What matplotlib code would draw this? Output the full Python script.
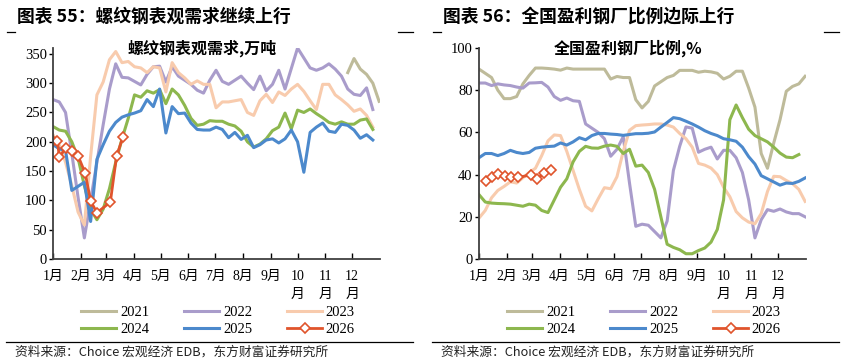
import numpy as np
import matplotlib.pyplot as plt
from matplotlib.lines import Line2D

plt.rcParams['font.family'] = ['Liberation Serif', 'Noto Sans CJK SC']

years = ['2021', '2022', '2023', '2024', '2025', '2026']
colors = ['#BEBB9A', '#A99CCB', '#F8CBAD', '#8DB74E', '#4C89CC', '#E0542C']

month_days = [1, 32, 60, 91, 121, 152, 182, 213, 244, 274, 305, 335]
month_labels = ['1月', '2月', '3月', '4月', '5月', '6月', '7月', '8月', '9月',
                '10\n月', '11\n月', '12\n月']

# 螺纹钢表观需求，万吨（周度，第0周起）
steel_2021_start = 47
steel_2021 = [318, 342, 324, 315, 300, 269]
steel_2022 = [272, 268, 250, 180, 105, 36, 100, 165, 229, 290, 333, 310, 309, 303, 297,
              315, 328, 329, 302, 328, 312, 305, 298, 288, 283, 305, 322, 303, 298, 305,
              312, 300, 289, 312, 287, 298, 322, 290, 325, 360, 343, 326, 322, 326, 333,
              324, 312, 290, 281, 279, 292, 255]
steel_2023 = [212, 195, 165, 125, 80, 58, 175, 280, 302, 340, 354, 335, 337, 328, 326,
              318, 328, 326, 285, 335, 318, 309, 298, 304, 298, 298, 258, 268, 268, 270,
              272, 250, 245, 270, 281, 267, 285, 279, 290, 298, 286, 270, 255, 298, 298,
              280, 272, 263, 252, 256, 245, 225]
steel_2024 = [226, 220, 218, 200, 172, 125, 85, 67, 85, 120, 165, 205, 240, 280, 276,
              287, 283, 289, 265, 290, 280, 262, 240, 228, 230, 236, 235, 235, 230, 227,
              218, 200, 191, 196, 205, 219, 225, 249, 222, 254, 250, 256, 248, 241, 233,
              230, 234, 230, 230, 237, 239, 221]
steel_2025 = [195, 188, 185, 117, 124, 131, 64, 170, 195, 218, 233, 242, 246, 249, 253,
              272, 260, 290, 215, 260, 248, 249, 232, 221, 220, 220, 225, 221, 207, 216,
              204, 211, 190, 195, 203, 205, 198, 205, 220, 200, 148, 216, 225, 232, 218,
              216, 230, 228, 220, 206, 212, 203]
steel_2026_days = [1, 6, 8, 15, 22, 29, 37, 43, 50, 65, 72, 79]
steel_2026 = [201.5, 201.5, 173.6, 189, 185, 176, 146, 99, 79, 97, 176, 207.5]

# 全国盈利钢厂比例，%（周度，第0周起）
profit_2021 = [90, 88, 86, 80, 76, 76, 77, 83, 87, 90.5, 90.5, 90.3, 90, 89.5, 90.5,
               90, 90, 90, 90, 90, 90, 85.3, 86.5, 86, 86, 75.5, 71.6, 74.7, 82, 84,
               86, 87, 89.4, 89.4, 89.4, 88.5, 89, 88.7, 88, 85.3, 86.6, 89, 89, 81,
               72, 50, 43, 55, 66, 79.5, 81.8, 83, 86.6]
profit_2022 = [83.4, 83.4, 82.2, 83, 82.5, 82.2, 81.5, 81, 83.4, 83.5, 83.7, 81.5, 77,
               75.2, 76.3, 75, 74.7, 64, 62, 60, 57, 48.7, 52, 58, 36, 15.5, 16.5, 16,
               13, 10, 18, 42, 53.4, 62.6, 62, 50.6, 52, 53, 47.4, 51.5, 51.5, 48, 41,
               28, 10, 18.6, 23.4, 22.6, 23.7, 22.3, 21.5, 21.5, 20]
profit_2023 = [19.4, 23, 29, 32.5, 34.4, 36.6, 36, 38.5, 41, 43, 49, 56, 58.8, 58.5,
               51, 42, 33, 25, 22.8, 28.5, 33.8, 33.3, 39, 51, 61, 63.2, 63.5, 63.7,
               64, 64, 63.5, 62.5, 59.5, 57, 53, 45.3, 44.5, 43.1, 40, 34, 29.5, 22.5,
               19.5, 17.5, 16.7, 21.5, 32, 39.2, 39, 37.2, 35.7, 33, 27.3]
profit_2024 = [30.5, 27, 26.5, 26.3, 26.2, 26, 25.5, 25, 26, 25.5, 23, 22, 28, 34, 38,
               46, 51, 53.4, 52.6, 52.5, 53.5, 54, 53.4, 50, 52, 44, 44.5, 41, 33, 20,
               7, 5.5, 4.4, 2.5, 2.5, 4, 5.2, 8, 14, 28, 66, 73, 67, 61.5, 58.5, 57,
               55.5, 53, 50.2, 48.3, 48, 49.5]
profit_2025 = [48, 50, 50, 49, 50, 51.5, 50.5, 50, 50.5, 52.5, 53, 53.3, 53.5, 55, 54,
               55.5, 57.5, 56.5, 58.5, 59.5, 59.5, 59.2, 59, 58.6, 59, 59.4, 59.4, 59.6,
               60.2, 62.5, 64.7, 67, 66.5, 65.3, 64, 62.5, 60.8, 59.5, 58.5, 57, 56.5,
               55.8, 53, 48.5, 45, 39.5, 38, 36.5, 35, 36, 35.8, 36.8, 38.4]
profit_2026_days = [9, 16, 22, 30, 37, 44, 59, 66, 73, 81]
profit_2026 = [37.1, 39, 40.3, 39.3, 39, 38.7, 39.8, 37.8, 40.6, 42.2]


def week_days(vals, start=0):
    return 1 + 7 * (start + np.arange(len(vals)))


W, H = 852, 364
fig = plt.figure(figsize=(W / 100, H / 100), dpi=100)


def panel(x0, fig_title, inner_title, weekly, d26, v26, ymax, yticks):
    ax = fig.add_axes([(x0 + 53) / W, (H - 259) / H, 327 / W, 211 / H])
    handles = []
    for (vals, start), c in zip(weekly, colors[:5]):
        h, = ax.plot(week_days(vals, start), vals, color=c, lw=2.2, solid_joinstyle='round')
        handles.append(h)
    h, = ax.plot(d26, v26, color=colors[5], lw=2, marker='D', ms=5.5,
                 mfc='white', mec=colors[5], mew=1.2)
    handles.append(h)

    ax.set_xlim(1, 366)
    ax.set_ylim(0, ymax)
    ax.set_xticks(month_days)
    ax.set_xticklabels(month_labels, fontsize=10, linespacing=1.5)
    ax.set_yticks(yticks)
    ax.tick_params(axis='x', direction='in', length=4, width=1, pad=8, colors='#000000')
    ax.tick_params(axis='y', direction='out', length=3, width=1, pad=1.5, labelsize=10.5)
    for s in ['top', 'right']:
        ax.spines[s].set_visible(False)
    for s in ['left', 'bottom']:
        ax.spines[s].set_color('#404040')
        ax.spines[s].set_linewidth(1.3)

    ax.text(0.455, 1.0, inner_title, transform=ax.transAxes, ha='center', va='center',
            fontsize=11.5, fontweight='bold', family=['Noto Sans CJK SC'])

    order = [0, 3, 1, 4, 2, 5]
    ax.legend([handles[i] for i in order], [years[i] for i in order], ncol=3,
              loc='center', bbox_to_anchor=(0.505, -0.294), frameon=False,
              fontsize=10.5, handlelength=2.4, handletextpad=0.25,
              columnspacing=2.4, labelspacing=0.3, borderpad=0)

    fig.text((x0 + 17) / W, 1 - 17 / H, fig_title, ha='left', va='center',
             fontsize=12.8, fontweight='bold', family=['Noto Sans CJK SC'])
    fig.text((x0 + 15) / W, 1 - 352 / H, '资料来源：Choice 宏观经济 EDB，东方财富证券研究所',
             ha='left', va='center', fontsize=9.2, color='#222222',
             family=['Noto Sans CJK SC'])
    for xa, xb, y in [(7, 15, 32), (398, 413, 32), (6, 413, 342)]:
        fig.add_artist(Line2D([(x0 + xa) / W, (x0 + xb) / W], [1 - y / H, 1 - y / H],
                              color='black', lw=0.9))
    return ax


panel(0, '图表 55：螺纹钢表观需求继续上行', '螺纹钢表观需求,万吨',
      [(steel_2021, steel_2021_start), (steel_2022, 0), (steel_2023, 0),
       (steel_2024, 0), (steel_2025, 0)],
      steel_2026_days, steel_2026, 360, np.arange(0, 351, 50))

panel(426, '图表 56：全国盈利钢厂比例边际上行', '全国盈利钢厂比例,%',
      [(profit_2021, 0), (profit_2022, 0), (profit_2023, 0),
       (profit_2024, 0), (profit_2025, 0)],
      profit_2026_days, profit_2026, 100, np.arange(0, 101, 20))

fig.savefig('out.png', dpi=100)
